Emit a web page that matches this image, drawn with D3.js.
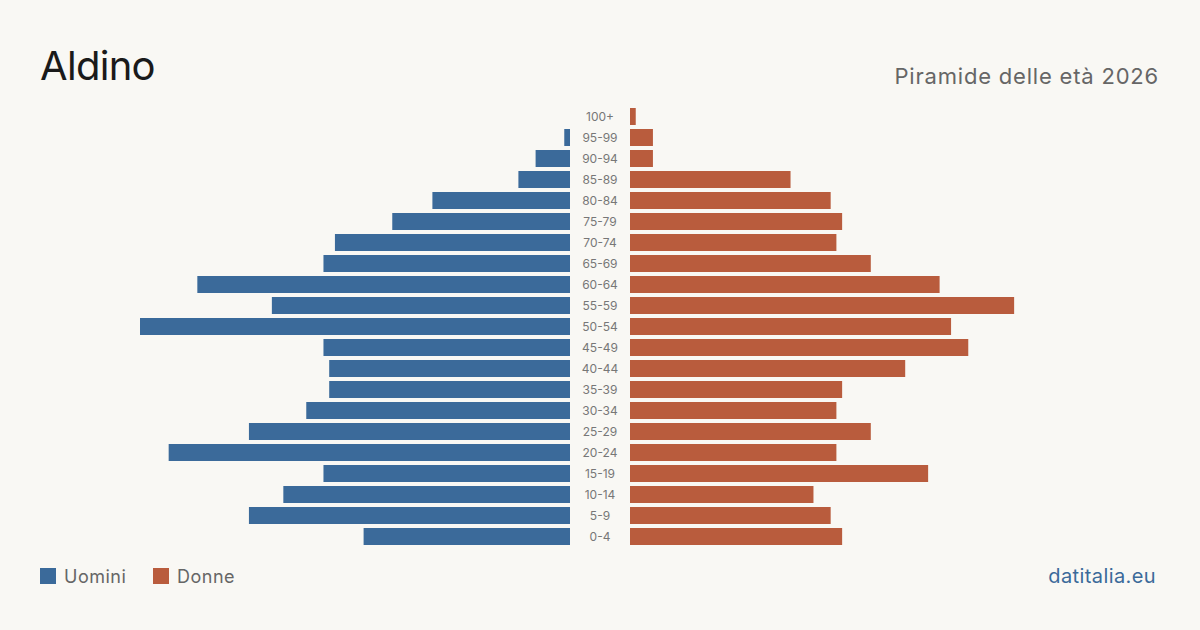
<!DOCTYPE html>
<html>
<head>
<meta charset="utf-8">
<script src="https://cdn.jsdelivr.net/npm/d3@7"></script>
<style>
  html, body { margin: 0; padding: 0; background: #f9f8f4; }
  svg { display: block; font-family: Inter, "Noto Sans", sans-serif; }
</style>
</head>
<body>
<script>
// age classes, top to bottom
var ageGroups = ["100+", "95-99", "90-94", "85-89", "80-84", "75-79", "70-74", "65-69", "60-64", "55-59",
  "50-54", "45-49", "40-44", "35-39", "30-34", "25-29", "20-24", "15-19", "10-14", "5-9", "0-4"];
var uomini = [0, 1, 6, 9, 24, 31, 41, 43, 65, 52, 75, 43, 42, 42, 46, 56, 70, 43, 50, 56, 36];
var donne  = [1, 4, 4, 28, 35, 37, 36, 42, 54, 67, 56, 59, 48, 37, 36, 42, 36, 52, 32, 35, 37];
var legendLabels = ["Uomini", "Donne"];

var W = 1200, H = 630;
var blue = "#3b6a9a", red = "#b95c3d";

var svg = d3.select("body").append("svg")
  .attr("width", W)
  .attr("height", H);

svg.append("rect").attr("width", W).attr("height", H).attr("fill", "#f9f8f4");

svg.append("text")
  .attr("x", 40).attr("y", 80)
  .attr("font-size", 40)
  .attr("letter-spacing", -0.7)
  .attr("fill", "#1a1a1a")
  .text("Aldino");

svg.append("text")
  .attr("x", 1159).attr("y", 84)
  .attr("text-anchor", "end")
  .attr("font-size", 22)
  .attr("letter-spacing", 0.8)
  .attr("fill", "#666")
  .text("Piramide delle età 2026");

var maxV = d3.max(uomini.concat(donne));

var y = d3.scaleBand()
  .domain(ageGroups)
  .range([106, 547])
  .paddingInner(4 / 21)
  .paddingOuter(2 / 21);

var xL = d3.scaleLinear().domain([0, maxV]).range([570, 140]);
var xR = d3.scaleLinear().domain([0, maxV]).range([630, 1060]);

svg.append("g").selectAll("rect")
  .data(uomini)
  .enter().append("rect")
    .attr("x", function(d) { return xL(d); })
    .attr("y", function(d, i) { return y(ageGroups[i]); })
    .attr("width", function(d) { return xL(0) - xL(d); })
    .attr("height", y.bandwidth())
    .attr("fill", blue);

svg.append("g").selectAll("rect")
  .data(donne)
  .enter().append("rect")
    .attr("x", xR(0))
    .attr("y", function(d, i) { return y(ageGroups[i]); })
    .attr("width", function(d) { return xR(d) - xR(0); })
    .attr("height", y.bandwidth())
    .attr("fill", red);

svg.append("g").selectAll("text")
  .data(ageGroups)
  .enter().append("text")
    .attr("x", 600)
    .attr("y", function(d) { return y(d) + y.bandwidth() / 2; })
    .attr("dy", "0.35em")
    .attr("text-anchor", "middle")
    .attr("font-size", 12)
    .attr("fill", "#777")
    .text(function(d) { return d; });

// legend
var lg = svg.append("g").selectAll("g")
  .data(legendLabels)
  .enter().append("g")
    .attr("transform", function(d, i) { return "translate(" + (40 + i * 113) + ",568)"; });
lg.append("rect")
  .attr("width", 16).attr("height", 16)
  .attr("fill", function(d, i) { return i ? red : blue; });
lg.append("text")
  .attr("x", 24).attr("y", 15)
  .attr("font-size", 18)
  .attr("letter-spacing", 0.5)
  .attr("fill", "#666")
  .text(function(d) { return d; });

svg.append("text")
  .attr("x", 1156).attr("y", 583)
  .attr("text-anchor", "end")
  .attr("font-size", 20)
  .attr("letter-spacing", 0.4)
  .attr("fill", "#3b6a9a")
  .text("datitalia.eu");
</script>
</body>
</html>
